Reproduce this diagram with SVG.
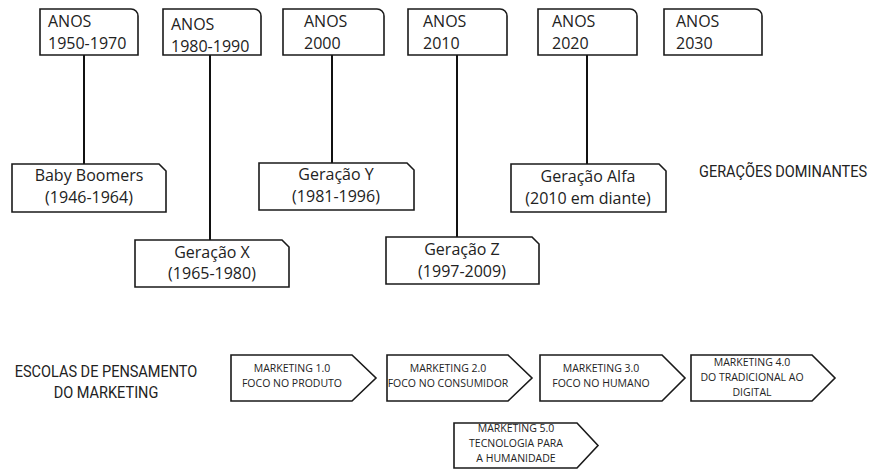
<svg xmlns="http://www.w3.org/2000/svg" width="874" height="469" viewBox="0 0 874 469">
<style>
.box{fill:#fff;stroke:#1a1a1a;stroke-width:1.6}
.ln{stroke:#111;stroke-width:2;fill:none}
.yr{font-family:"Open Sans","Liberation Sans",sans-serif;font-size:16px;fill:#222}
.gen{font-family:"Open Sans","Liberation Sans",sans-serif;font-size:16px;fill:#222;text-anchor:middle}
.mk{font-family:"Open Sans","Liberation Sans",sans-serif;font-size:10.5px;fill:#222;text-anchor:middle}
.hd{font-family:Roboto,"DejaVu Sans",sans-serif;font-size:16.5px;fill:#222}
</style>
<rect width="874" height="469" fill="#fff"/>
<g id="connectors">
<line class="ln" x1="84" y1="55" x2="84" y2="164"/>
<line class="ln" x1="210" y1="55" x2="210" y2="240"/>
<line class="ln" x1="332" y1="55" x2="332" y2="163"/>
<line class="ln" x1="457" y1="55" x2="457" y2="237"/>
<line class="ln" x1="587" y1="55" x2="587" y2="164"/>
</g>
<g id="anos1950"><path class="box" d="M40,9 H131 A7,7 0 0 1 138,16 V55 H40 Z"/><text class="yr" x="48" y="27">ANOS</text><text class="yr" x="48" y="49">1950-1970</text></g>
<g id="anos1980"><path class="box" d="M163,9 H254 A7,7 0 0 1 261,16 V55 H163 Z"/><text class="yr" x="171" y="30">ANOS</text><text class="yr" x="171" y="52">1980-1990</text></g>
<g id="anos2000"><path class="box" d="M283,9 H377 A7,7 0 0 1 384,16 V55 H283 Z"/><text class="yr" x="304" y="27">ANOS</text><text class="yr" x="304" y="49">2000</text></g>
<g id="anos2010"><path class="box" d="M408,9 H500 A7,7 0 0 1 507,16 V55 H408 Z"/><text class="yr" x="423" y="27">ANOS</text><text class="yr" x="423" y="49">2010</text></g>
<g id="anos2020"><path class="box" d="M538,9 H630 A7,7 0 0 1 637,16 V55 H538 Z"/><text class="yr" x="552" y="27">ANOS</text><text class="yr" x="552" y="49">2020</text></g>
<g id="anos2030"><path class="box" d="M664,9 H755 A7,7 0 0 1 762,16 V55 H664 Z"/><text class="yr" x="676" y="27">ANOS</text><text class="yr" x="676" y="49">2030</text></g>
<g id="babyboomers"><path class="box" d="M12,164 H159 L166,171 V212 H12 Z"/><text class="gen" x="89" y="181">Baby Boomers</text><text class="gen" x="89" y="203">(1946-1964)</text></g>
<g id="geracaoX"><path class="box" d="M135,240 H282 L289,247 V287 H135 Z"/><text class="gen" x="212" y="258">Geração X</text><text class="gen" x="212" y="279">(1965-1980)</text></g>
<g id="geracaoY"><path class="box" d="M259,163 H407 L414,170 V210 H259 Z"/><text class="gen" x="336" y="180">Geração Y</text><text class="gen" x="336" y="202">(1981-1996)</text></g>
<g id="geracaoZ"><path class="box" d="M386,237 H532 L539,244 V284 H386 Z"/><text class="gen" x="462" y="255">Geração Z</text><text class="gen" x="462" y="277">(1997-2009)</text></g>
<g id="geracaoAlfa"><path class="box" d="M511,164 H659 L666,171 V212 H511 Z"/><text class="gen" x="588" y="182">Geração Alfa</text><text class="gen" x="588" y="204">(2010 em diante)</text></g>
<g id="label-geracoes"><text class="hd" transform="translate(699,177) scale(0.88,1)">GERAÇÕES DOMINANTES</text></g>
<g id="label-escolas"><text class="hd" text-anchor="middle" transform="translate(106,377) scale(0.88,1)">ESCOLAS DE PENSAMENTO</text><text class="hd" text-anchor="middle" transform="translate(106,398) scale(0.88,1)">DO MARKETING</text></g>
<g id="mk1"><path class="box" d="M231,355 H352 L376,378 L352,401 H231 Z"/><text class="mk" x="292" y="372">MARKETING 1.0</text><text class="mk" x="292" y="387">FOCO NO PRODUTO</text></g>
<g id="mk2"><path class="box" d="M387,355 H508 L532,378 L508,401 H387 Z"/><text class="mk" x="448" y="372">MARKETING 2.0</text><text class="mk" x="448" y="387">FOCO NO CONSUMIDOR</text></g>
<g id="mk3"><path class="box" d="M540,355 H662 L685,378 L662,401 H540 Z"/><text class="mk" x="601" y="372">MARKETING 3.0</text><text class="mk" x="601" y="387">FOCO NO HUMANO</text></g>
<g id="mk4"><path class="box" d="M691,355 H812 L835,378 L812,401 H691 Z"/><text class="mk" x="752" y="366">MARKETING 4.0</text><text class="mk" x="752" y="381">DO TRADICIONAL AO</text><text class="mk" x="752" y="396">DIGITAL</text></g>
<g id="mk5"><path class="box" d="M454,423 H577 L598,445.5 L577,468 H454 Z"/><text class="mk" x="516" y="432">MARKETING 5.0</text><text class="mk" x="516" y="447">TECNOLOGIA PARA</text><text class="mk" x="516" y="462">A HUMANIDADE</text></g>
</svg>
